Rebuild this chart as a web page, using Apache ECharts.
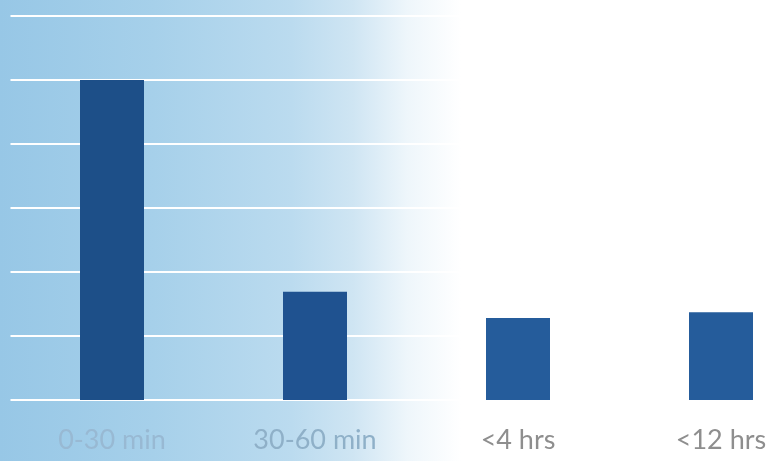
<!DOCTYPE html>
<html>
<head>
<meta charset="utf-8">
<script src="https://cdn.jsdelivr.net/npm/echarts@6/dist/echarts.min.js"></script>
<style>html,body{margin:0;padding:0;background:#fff}#c{width:768px;height:461px}</style>
</head>
<body>
<div id="c"></div>
<script>
const categories = ['0-30 min', '30-60 min', '<4 hrs', '<12 hrs'];
const values = [5.0, 1.69, 1.28, 1.37];
const yMin = 0, yMax = 6, yStep = 1;

const barColors = ['#1d4f88', '#1f5290', '#255c9b', '#255c9b'];
const labelColors = ['#98b9d3', '#8fb0c8', '#8e8e8e', '#8e8e8e'];

const chart = echarts.init(document.getElementById('c'), null, {renderer: 'canvas'});
chart.setOption({
  animation: false,
  backgroundColor: new echarts.graphic.LinearGradient(0, 0, 1, 0, [
    {offset: 0, color: '#97c7e6'},
    {offset: 0.2, color: '#a6d0ea'},
    {offset: 0.38, color: '#bbdbef'},
    {offset: 0.46, color: '#cfe5f3'},
    {offset: 0.53, color: '#eef6fb'},
    {offset: 0.6, color: '#ffffff'},
    {offset: 1, color: '#ffffff'}
  ]),
  grid: {left: 10.5, width: 812, top: 16, bottom: 61, containLabel: false, outerBoundsMode: 'none'},
  xAxis: {
    type: 'category',
    data: categories.map((c, i) => ({value: c, textStyle: {color: labelColors[i]}})),
    axisLine: {show: false},
    axisTick: {show: false},
    axisLabel: {fontFamily: 'Lato', fontSize: 27, margin: 27}
  },
  yAxis: {
    type: 'value', min: yMin, max: yMax, interval: yStep,
    axisLabel: {show: false},
    axisLine: {show: false},
    axisTick: {show: false},
    splitLine: {lineStyle: {color: '#ffffff', width: 2}}
  },
  series: [{
    type: 'bar',
    data: values.map((v, i) => ({value: v, itemStyle: {color: barColors[i]}})),
    barWidth: 64
  }]
});
</script>
</body>
</html>
